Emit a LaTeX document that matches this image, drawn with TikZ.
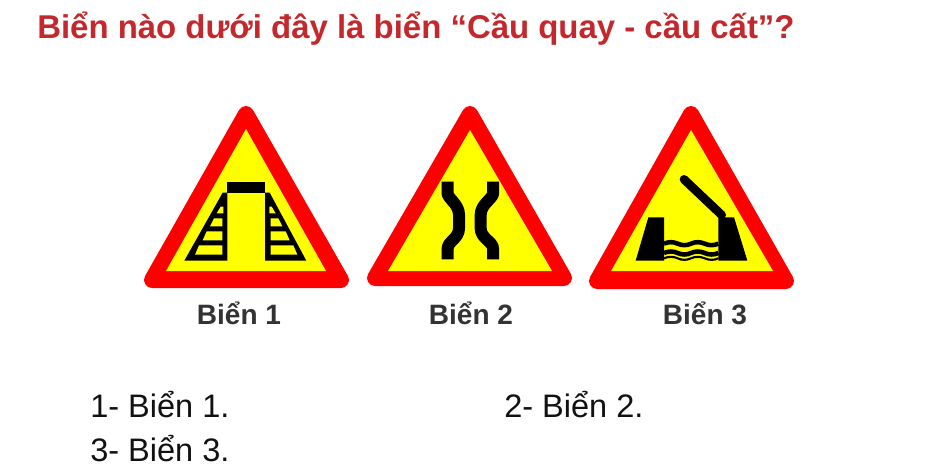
\documentclass[tikz,border=0pt]{standalone}
\usepackage{fontspec}
\setmainfont{Liberation Sans}
\definecolor{titlered}{HTML}{C4282C}
\definecolor{signred}{HTML}{FF0000}
\definecolor{signyel}{HTML}{FFFF00}
\definecolor{captxt}{HTML}{333333}
\definecolor{bodytxt}{HTML}{111111}
\tikzset{
  redsign/.style={draw=signred,fill=signred,line width=12pt,line join=round},
  yelsign/.style={fill=signyel},
  ink/.style={fill=black},
  inkline/.style={draw=black,line join=round},
  zoomA/.style={shift={(140,100)},x=.25pt,y=-.25pt},
  zoomB/.style={shift={(360,100)},x=.25pt,y=-.25pt},
  zoomC/.style={shift={(580,100)},x=.25pt,y=-.25pt},
  titletext/.style={anchor=base west,inner sep=0pt,font=\bfseries\fontsize{24.7pt}{28pt}\selectfont,text=titlered},
  captext/.style={anchor=base,inner sep=0pt,font=\fontsize{21pt}{24pt}\selectfont\bfseries,text=captxt},
  answertext/.style={anchor=base west,inner sep=0pt,font=\fontsize{24.4pt}{28pt}\selectfont,text=bodytxt}
}
\begin{document}
\begin{tikzpicture}[x=.75pt,y=-.75pt]
\useasboundingbox[fill=white] (0,0) rectangle (945,472);
\node[titletext] (q) at (37,38) {Biển nào dưới đây là biển “Cầu quay - cầu cất”?};
% Sign 1
\path[redsign] (152,280) -- (341,280) -- (246,114) -- cycle;
\path[yelsign] (166,271) -- (326,271) -- (246,129) -- cycle;
\begin{scope}[zoomA]
\path[ink] (262,245) rectangle (375,280);
\path[ink] (248,278) -- (262,278) -- (262,482) -- (133,482) -- cycle;
\path[ink] (375,278) -- (389,278) -- (499,482) -- (375,482) -- cycle;
\foreach \ya/\yb/\xl/\xr in {436/464/165/247, 394/421/188/247, 355/379/210/247, 320/340/230/250}{
  \path[yelsign] (\xl,\yb) -- (\xr,\yb) -- (\xr,\ya) -- (\xl+12,\ya) -- cycle;
}
\foreach \ya/\yb/\xl/\xr in {436/464/392/472, 394/421/392/449, 355/379/392/427, 320/340/388/407}{
  \path[yelsign] (\xl,\ya) -- (\xr-12,\ya) -- (\xr,\yb) -- (\xl,\yb) -- cycle;
}
\end{scope}
\node[captext] (c1) at (239,324) {Biển 1};
% Sign 2
\path[redsign] (375,278) -- (564,278) -- (470,114) -- cycle;
\path[yelsign] (388,271) -- (552,271) -- (470,130) -- cycle;
\begin{scope}[zoomB]
\draw[inkline,line width=9pt] (263,245) -- (263,283) .. controls (270,300) and (297,315) .. (297,345) -- (297,385) .. controls (297,415) and (263,425) .. (263,445) -- (263,478);
\draw[inkline,line width=9pt] (399,245) -- (399,283) .. controls (392,300) and (362,315) .. (362,345) -- (362,385) .. controls (362,415) and (399,425) .. (399,445) -- (399,478);
\end{scope}
\node[captext] (c2) at (471,324) {Biển 2};
% Sign 3
\path[redsign] (597,281) -- (786,281) -- (691,114) -- cycle;
\path[yelsign] (611,271) -- (773,271) -- (691,130) -- cycle;
\begin{scope}[zoomC]
\path[ink] (205,352) -- (252,352) -- (252,482) -- (167,482) -- cycle;
\path[ink] (415,352) -- (462,352) -- (502,482) -- (415,482) -- cycle;
\path[ink] (415,352) -- (432,345) -- (432,356) -- cycle;
\draw[black,line width=6.5pt,line cap=round] (312,238) -- (425,345);
\foreach \y/\w in {431/3.4pt,459/3.4pt,475/1.6pt}{
  \draw[black,line width=\w] (252,\y) .. controls (265,\y-6) and (280,\y-6) .. (293,\y) .. controls (306,\y+6) and (320,\y+6) .. (333,\y) .. controls (346,\y-6) and (360,\y-6) .. (374,\y) .. controls (387,\y+6) and (402,\y+6) .. (415,\y);
}
\end{scope}
\node[captext] (c3) at (705,324) {Biển 3};
% Answers
\node[answertext] (a1) at (90,417) {1- Biển 1.};
\node[answertext] (a2) at (504,417) {2- Biển 2.};
\node[answertext] (a3) at (90,461) {3- Biển 3.};
\end{tikzpicture}
\end{document}
